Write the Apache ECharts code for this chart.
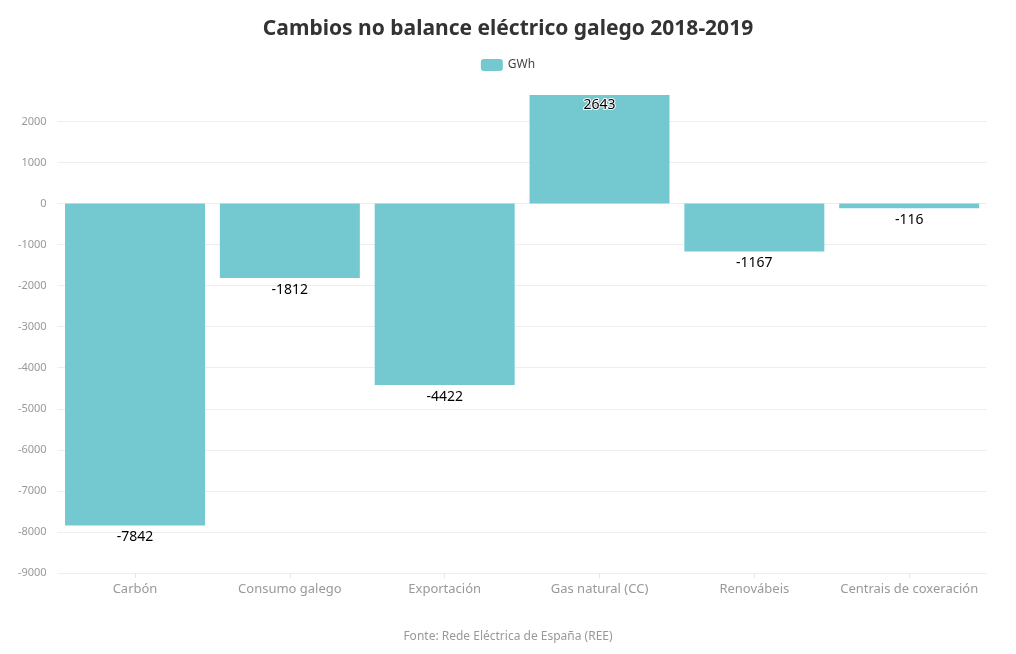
<!DOCTYPE html>
<html><head><meta charset="utf-8">
<script src="https://cdn.jsdelivr.net/npm/echarts@6/dist/echarts.min.js"></script>
<style>html,body{margin:0;padding:0;background:#fff}#c{width:1016px;height:654px}</style>
</head><body><div id="c"></div>
<script>
const categories = ["Carbón", "Consumo galego", "Exportación", "Gas natural (CC)", "Renovábeis", "Centrais de coxeración"];
const values = [-7842, -1812, -4422, 2643, -1167, -116];
const seriesName = "GWh";
const titleText = "Cambios no balance eléctrico galego 2018-2019";
const sourceText = "Fonte: Rede Eléctrica de España (REE)";

const font = "'Noto Sans', 'Open Sans', sans-serif";
const chart = echarts.init(document.getElementById('c'));
const lineColors = [];
for (let i = 0; i < 12; i++) lineColors.push('#eeeeee');
lineColors.push('rgba(0,0,0,0)');
chart.setOption({
  animation: false,
  textStyle: { fontFamily: font },
  title: [
    { text: titleText, left: 'center', top: 14,
      textStyle: { fontFamily: font, fontSize: 21, fontWeight: 'bold', color: '#333' } },
    { text: sourceText, left: 'center', top: 626,
      textStyle: { fontFamily: font, fontSize: 12, fontWeight: 'normal', color: '#999' } }
  ],
  legend: { top: 54, left: 'center', itemWidth: 22, itemHeight: 12, itemGap: 6,
    textStyle: { fontFamily: font, fontSize: 12, color: '#444' },
    data: [{ name: seriesName, itemStyle: { borderRadius: 3 } }] },
  grid: { left: 57.6, right: 29.4, top: 95, bottom: 81, containLabel: false },
  xAxis: {
    type: 'category', data: categories, position: 'bottom',
    axisLine: { show: false, onZero: false },
    axisTick: { show: true, alignWithLabel: true, length: 5, lineStyle: { color: '#e6e6e6' } },
    axisLabel: { interval: 0, fontFamily: font, fontSize: 13, color: '#999', margin: 10 }
  },
  yAxis: {
    type: 'value', min: -9000, max: 'dataMax', interval: 1000,
    axisLine: { show: false }, axisTick: { show: false },
    axisLabel: { fontFamily: font, fontSize: 11, color: '#999', margin: 11,
      formatter: v => (v > 2000 ? '' : String(v)) },
    splitLine: { lineStyle: { color: lineColors, width: 1 } }
  },
  series: [{
    name: seriesName, type: 'bar', barCategoryGap: '9.6%',
    itemStyle: { color: '#74c9d1' },
    data: values.map(v => ({
      value: v,
      label: {
        show: true,
        position: v >= 0 ? 'insideTop' : 'bottom',
        distance: v >= 0 ? 3 : 5,
        fontFamily: font, fontSize: 14, color: '#000',
        textBorderColor: '#fff', textBorderWidth: v >= 0 ? 2 : 0
      }
    }))
  }]
});
</script></body></html>
